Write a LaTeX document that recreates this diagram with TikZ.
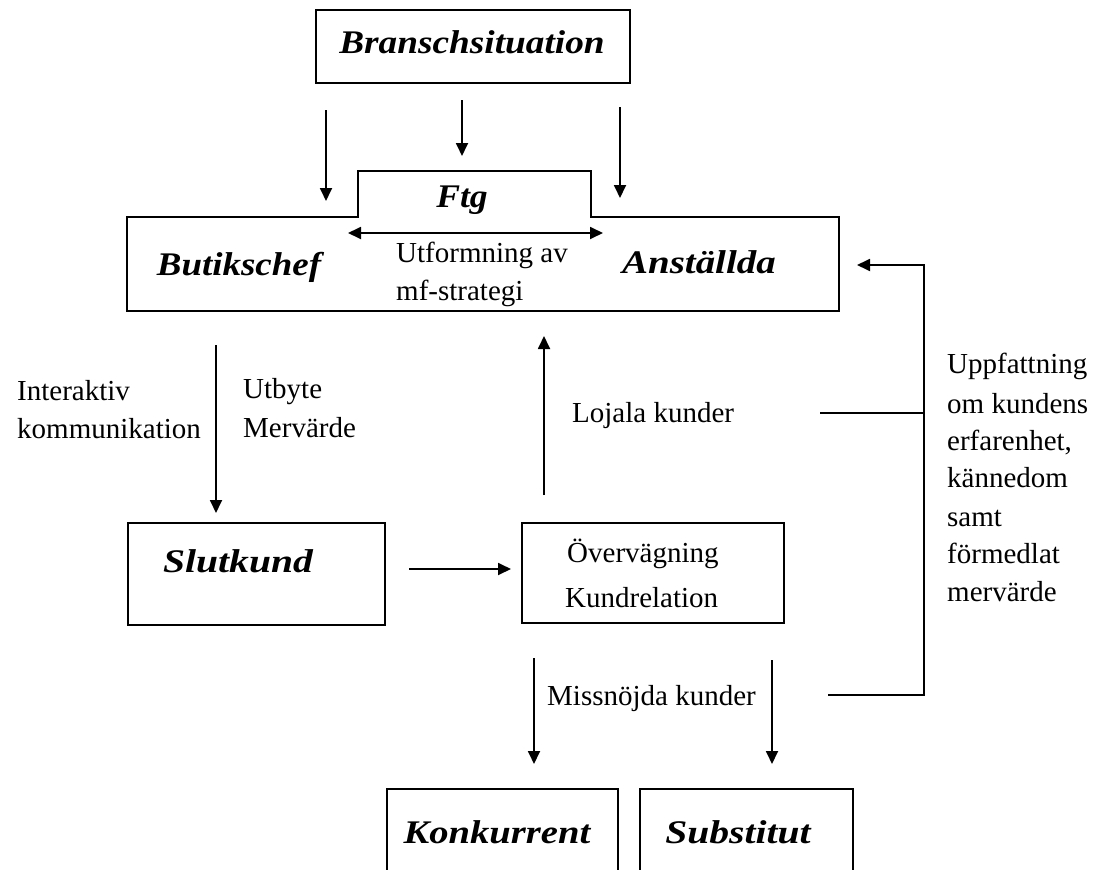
\documentclass[tikz,border=0pt]{standalone}
\usepackage{fontspec}
\setmainfont{Liberation Serif}
\usetikzlibrary{arrows.meta}
\begin{document}
\begin{tikzpicture}[x=1pt,y=-1pt,
  line/.style={line width=1.8pt},
  arr/.style={line width=1.8pt,-{Triangle[length=13pt,width=12pt]}},
  dblarr/.style={line width=1.8pt,{Triangle[length=13pt,width=12pt]}-{Triangle[length=13pt,width=12pt]}},
  boxshape/.style={draw,line width=1.8pt,rectangle,inner sep=0pt},
  plain/.style={font=\fontsize{29}{37}\selectfont,inner sep=0pt,anchor=base west},
  title/.style={font=\fontsize{33}{40}\selectfont\bfseries\itshape,inner sep=0pt,anchor=base},
]
\useasboundingbox (0,0) rectangle (1095,870);
\clip (0,0) rectangle (1095,870);
\fill[white] (0,0) rectangle (1095,870);

% boxes
\node[boxshape,minimum width=314pt,minimum height=73pt] (bransch) at (473,46.5) {};
\node[boxshape,minimum width=257pt,minimum height=102pt] (slut) at (256.5,574) {};
\node[boxshape,minimum width=262pt,minimum height=100pt] (overv) at (653,573) {};
\node[boxshape,minimum width=231pt,minimum height=111pt] (konk) at (502.5,844.5) {};
\node[boxshape,minimum width=213pt,minimum height=111pt] (subst) at (746.5,844.5) {};

% the company box with its raised tab
\draw[line] (127,217) -- (358,217) -- (358,171) -- (591,171) -- (591,217)
  -- (839,217) -- (839,311) -- (127,311) -- cycle;

% titles
\node[title] (tBransch) at (472,53) {\scalebox{1.13}[1]{Branschsituation}};
\node[title] (tFtg) at (462,207) {\scalebox{1.08}[1]{Ftg}};
\node[title] (tButik) at (239,275) {\scalebox{1.12}[1]{Butikschef}};
\node[title] (tAnst) at (699,273) {\scalebox{1.18}[1]{Anställda}};
\node[title] (tSlut) at (238,572) {\scalebox{1.2}[1]{Slutkund}};
\node[title] (tKonk) at (497,843) {\scalebox{1.17}[1]{Konkurrent}};
\node[title] (tSubst) at (738,843) {\scalebox{1.2}[1]{Substitut}};

% plain labels
\node[plain] (lUtf1) at (396,262) {Utformning av};
\node[plain] (lUtf2) at (396,300) {mf-strategi};
\node[plain] (lInt1) at (17,400) {Interaktiv};
\node[plain] (lInt2) at (17,438) {kommunikation};
\node[plain] (lUtb1) at (243,398) {Utbyte};
\node[plain] (lUtb2) at (243,437) {Mervärde};
\node[plain] (lLoj) at (572,422) {Lojala kunder};
\node[plain] (lOv1) at (567,562) {Övervägning};
\node[plain] (lOv2) at (565,607) {Kundrelation};
\node[plain] (lMiss) at (547,705) {Missnöjda kunder};
\node[plain] (lU1) at (947,373) {Uppfattning};
\node[plain] (lU2) at (947,413) {om kundens};
\node[plain] (lU3) at (947,450) {erfarenhet,};
\node[plain] (lU4) at (947,487) {kännedom};
\node[plain] (lU5) at (947,526) {samt};
\node[plain] (lU6) at (947,563) {förmedlat};
\node[plain] (lU7) at (947,601) {mervärde};

% connector end points
\coordinate (b1s) at (326,110); \coordinate (b1e) at (326,201);
\coordinate (b2s) at (462,100); \coordinate (b2e) at (462,156);
\coordinate (b3s) at (620,107); \coordinate (b3e) at (620,198);
\coordinate (dL) at (348,233); \coordinate (dR) at (603,233);
\coordinate (sS) at (216,345); \coordinate (sE) at (216,513);
\coordinate (hS) at (409,569); \coordinate (hE) at (511,569);
\coordinate (uS) at (544,495); \coordinate (uE) at (544,336);
\coordinate (m1s) at (534,658); \coordinate (m1e) at (534,764);
\coordinate (m2s) at (772,660); \coordinate (m2e) at (772,764);
\coordinate (fbB) at (828,695); \coordinate (fbC) at (924,695);
\coordinate (fbT) at (924,265); \coordinate (fbTip) at (857,265);
\coordinate (fbM) at (820,413); \coordinate (fbMr) at (924,413);

% connectors
\draw[arr] (b1s) -- (b1e);
\draw[arr] (b2s) -- (b2e);
\draw[arr] (b3s) -- (b3e);
\draw[dblarr] (dL) -- (dR);
\draw[arr] (sS) -- (sE);
\draw[arr] (hS) -- (hE);
\draw[arr] (uS) -- (uE);
\draw[arr] (m1s) -- (m1e);
\draw[arr] (m2s) -- (m2e);
\draw[arr] (fbB) -- (fbC) -- (fbT) -- (fbTip);
\draw[line] (fbM) -- (fbMr);
\end{tikzpicture}
\end{document}
